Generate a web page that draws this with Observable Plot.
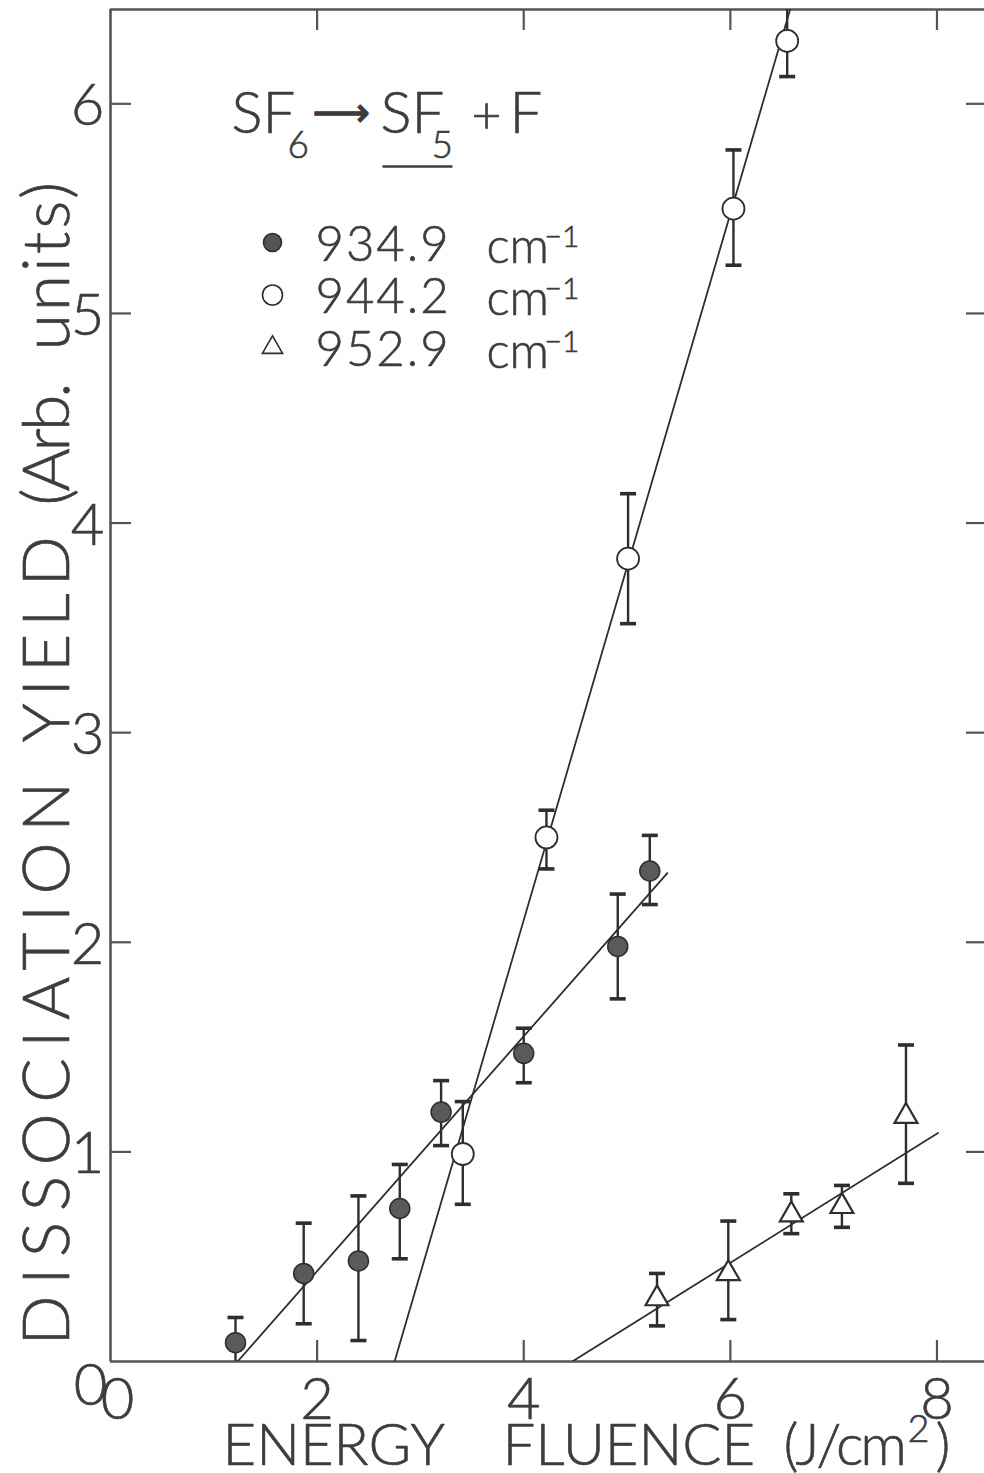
<!DOCTYPE html>
<html>
<head>
<meta charset="utf-8">
<script src="https://cdn.jsdelivr.net/npm/d3@7"></script>
<script src="https://cdn.jsdelivr.net/npm/@observablehq/plot@0.6"></script>
<style>
html, body { margin: 0; padding: 0; background: #fff; overflow: hidden; }
</style>
</head>
<body>
<div id="chart"></div>
<script>
// ---- axes ----
const xTicks = [0, 2, 4, 6, 8];
const yTicks = [0, 1, 2, 3, 4, 5, 6];
const xDomain = [0, 8.46];
const yDomain = [0, 6.45];

// ---- 934.9 cm-1 (filled circles) ----
const fluence934 = [1.21, 1.87, 2.40, 2.80, 3.20, 4.00, 4.91, 5.22];
const yield934   = [0.09, 0.42, 0.48, 0.73, 1.19, 1.47, 1.98, 2.34];
const hi934      = [0.21, 0.66, 0.79, 0.94, 1.34, 1.59, 2.23, 2.51];
const lo934      = [0.00, 0.18, 0.10, 0.49, 1.03, 1.33, 1.73, 2.18];

// ---- 944.2 cm-1 (open circles) ----
const fluence944 = [3.41, 4.22, 5.01, 6.03, 6.55];
const yield944   = [0.99, 2.50, 3.83, 5.50, 6.30];
const hi944      = [1.24, 2.63, 4.14, 5.78, 6.60];
const lo944      = [0.75, 2.35, 3.52, 5.23, 6.13];

// ---- 952.9 cm-1 (triangles) ----
const fluence952 = [5.29, 5.98, 6.59, 7.08, 7.70];
const yield952   = [0.30, 0.42, 0.70, 0.74, 1.17];
const hi952      = [0.42, 0.67, 0.80, 0.84, 1.51];
const lo952      = [0.17, 0.20, 0.61, 0.64, 0.85];

// ---- fitted straight lines (end points) ----
const fitX934 = [1.23, 5.39], fitY934 = [0, 2.33];
const fitX944 = [2.75, 6.62], fitY944 = [0, 6.52];
const fitX952 = [4.47, 8.01], fitY952 = [0, 1.09];

// ---- legend / labels ----
const legendLabels = ["934.9", "944.2", "952.9"];
const legendUnit = "cm";
const legendExp = "\u22121";
const xLabelWords = ["ENERGY", "FLUENCE", "(J/cm", "2", ")"];
const yLabelWords = ["DISSOCIATION", "YIELD", "(Arb.", "units)"];

// ---------------------------------------------------------------
const ink = "#2e2e2e", txt = "#3c3c3c", frameInk = "#555";
const F = "Lato, 'Open Sans', 'DejaVu Sans', sans-serif";
const innerW = 984 - 110, innerH = 1473 - 9 - 112;
const textStyle = {fill: txt, stroke: txt, strokeWidth: 0.6, fontWeight: 300, fontFamily: F};

const table = (xs, ys, his, los) => xs.map((x, i) => ({x, y: ys[i], hi: his[i], lo: los[i]}));
const s934 = table(fluence934, yield934, hi934, lo934);
const s944 = table(fluence944, yield944, hi944, lo944);
const s952 = table(fluence952, yield952, hi952, lo952);
const pts = (xs, ys) => xs.map((x, i) => ({x, y: ys[i]}));

const hline = { draw(ctx, size) { const r = Math.sqrt(size / Math.PI); ctx.moveTo(-r, 0); ctx.lineTo(r, 0); } };

const errMarks = (data) => [
  Plot.ruleX(data, {x: "x", y1: "lo", y2: "hi", stroke: ink, strokeWidth: 2.4, clip: true}),
  Plot.dot(data, {x: "x", y: "hi", symbol: hline, r: 8, fill: "none", stroke: ink, strokeWidth: 3.6, clip: true}),
  Plot.dot(data.filter(d => d.lo > 0), {x: "x", y: "lo", symbol: hline, r: 8, fill: "none", stroke: ink, strokeWidth: 3.6})
];

const T = (text, o) => Plot.text([text], {
  text: d => d, frameAnchor: "top-left", textAnchor: "start", lineAnchor: "bottom",
  ...textStyle, ...o
});
const B = (text, o) => Plot.text([text], {
  text: d => d, frameAnchor: "bottom-left", textAnchor: "start", lineAnchor: "bottom",
  ...textStyle, ...o
});

const legendMarks = [];
legendLabels.forEach((lab, i) => {
  const off = i * 52.5;
  const sym = i === 2 ? "triangle" : "circle";
  legendMarks.push(
    Plot.dot([lab], {frameAnchor: "top-left", dx: 162, dy: 233 + off, symbol: sym,
      r: i === 0 ? 9 : (i === 1 ? 10 : 7.5),
      fill: i === 0 ? "#555" : "#fff", stroke: ink, strokeWidth: 1.6}),
    T(lab, {dx: 205, dy: 251 + off, fontSize: 49}),
    T(legendUnit, {dx: 376, dy: 253 + off, fontSize: 49}),
    T(legendExp, {dx: 434, dy: 237 + off, fontSize: 30})
  );
});

const plot = Plot.plot({
  width: 984, height: 1473,
  marginLeft: 110, marginRight: 0, marginTop: 9, marginBottom: 112,
  x: {domain: xDomain, axis: null},
  y: {domain: yDomain, axis: null},
  style: {background: "#fff", fontFamily: F},
  marks: [
    // frame (left, bottom, top)
    Plot.ruleX([xDomain[0]], {stroke: frameInk, strokeWidth: 2.6}),
    Plot.ruleY([yDomain[0]], {stroke: frameInk, strokeWidth: 2.6}),
    Plot.ruleY([yDomain[1]], {stroke: frameInk, strokeWidth: 2.6}),
    // inward ticks
    Plot.tickX(xTicks.filter(d => d > 0), {x: d => d, insetTop: innerH - 21, stroke: frameInk, strokeWidth: 2.2}),
    Plot.tickX(xTicks.filter(d => d > 0), {x: d => d, insetBottom: innerH - 21, stroke: frameInk, strokeWidth: 2.2}),
    Plot.tickY(yTicks.filter(d => d > 0), {y: d => d, insetRight: innerW - 21, stroke: frameInk, strokeWidth: 2.2}),
    Plot.tickY(yTicks.filter(d => d > 0), {y: d => d, insetLeft: innerW - 18, stroke: frameInk, strokeWidth: 2.2}),
    // tick labels
    Plot.text(xTicks.filter(d => d > 0), {x: d => d, text: d => String(d), frameAnchor: "bottom", lineAnchor: "bottom", dy: 57, fontSize: 58, ...textStyle}),
    Plot.text([xTicks[0]], {x: d => d, text: d => String(d), frameAnchor: "bottom", lineAnchor: "bottom", dy: 57, dx: 7, fontSize: 58, ...textStyle}),
    Plot.text(yTicks.filter(d => d > 0), {y: d => d, text: d => String(d), frameAnchor: "left", textAnchor: "end", lineAnchor: "middle", dx: -6, dy: 3, fontSize: 58, ...textStyle}),
    Plot.text([yTicks[0]], {y: d => d, text: d => String(d), frameAnchor: "left", textAnchor: "middle", lineAnchor: "bottom", dx: -20, dy: 43, fontSize: 58, ...textStyle}),
    // x axis label
    B(xLabelWords[0], {dx: 112, dy: 103, fontSize: 58}),
    B(xLabelWords[1], {dx: 392, dy: 103, fontSize: 58}),
    B(xLabelWords[2], {dx: 673, dy: 103, fontSize: 58}),
    B(xLabelWords[3], {dx: 797, dy: 80, fontSize: 38}),
    B(xLabelWords[4], {dx: 825, dy: 103, fontSize: 58}),
    // y axis label
    ...yLabelWords.map((w, i) => B(w, {rotate: -90, dx: -42, dy: [-16, -619, -856, -1011][i], fontSize: 66})),
    // title: SF6 -> SF5 + F
    T("SF", {dx: 121, dy: 123, fontSize: 58}),
    T("6", {dx: 177, dy: 148, fontSize: 37}),
    T("\u27F6", {dx: 231, dy: 104, textAnchor: "middle", lineAnchor: "middle", fontSize: 40, fontFamily: "DejaVu Sans", fontWeight: 400, strokeWidth: 1.2}),
    T("SF", {dx: 270, dy: 123, fontSize: 58}),
    T("5", {dx: 321, dy: 148, fontSize: 37}),
    Plot.dot(["underline"], {frameAnchor: "top-left", dx: 307, dy: 157, symbol: hline, r: 35, fill: "none", stroke: txt, strokeWidth: 2.6}),
    T("+", {dx: 361, dy: 123, fontSize: 52}),
    T("F", {dx: 399, dy: 123, fontSize: 58}),
    ...legendMarks,
    // fitted lines
    Plot.line(pts(fitX934, fitY934), {x: "x", y: "y", stroke: ink, strokeWidth: 1.8, clip: true}),
    Plot.line(pts(fitX944, fitY944), {x: "x", y: "y", stroke: ink, strokeWidth: 1.8, clip: true}),
    Plot.line(pts(fitX952, fitY952), {x: "x", y: "y", stroke: ink, strokeWidth: 1.8, clip: true}),
    // error bars
    ...errMarks(s934), ...errMarks(s944), ...errMarks(s952),
    // points
    Plot.dot(s934, {x: "x", y: "y", r: 10, fill: "#5a5a5a", stroke: ink, strokeWidth: 1.5}),
    Plot.dot(s944, {x: "x", y: "y", r: 11, fill: "#fff", stroke: ink, strokeWidth: 1.8}),
    Plot.dot(s952, {x: "x", y: "y", r: 8.5, symbol: "triangle", fill: "#fff", stroke: ink, strokeWidth: 2.2})
  ]
});

// letter spacing of the hand-lettered words
const spacing = {"DISSOCIATION": 10.5, "YIELD": 7, "(Arb.": -3, "units)": 3, "(J/cm": -3, "934.9": 2, "944.2": 2, "952.9": 2};
d3.select(plot).selectAll("text").each(function () {
  const s = spacing[this.textContent];
  if (s) d3.select(this).style("letter-spacing", s + "px");
});

document.getElementById("chart").appendChild(plot);
</script>
</body>
</html>
